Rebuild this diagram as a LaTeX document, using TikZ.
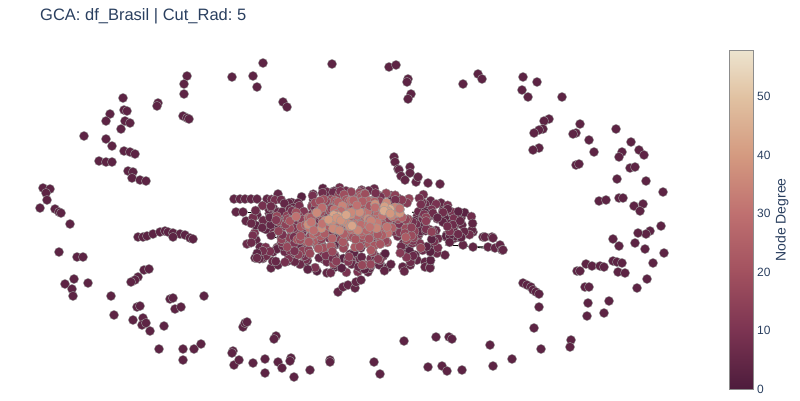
\documentclass[tikz,border=0pt]{standalone}
\usepackage{fontspec}
\setmainfont{Liberation Sans}
\usetikzlibrary{positioning}

\definecolor{degA}{HTML}{4D1C3C}
\definecolor{degB}{HTML}{7C3452}
\definecolor{degC}{HTML}{A2515F}
\definecolor{degD}{HTML}{BF7070}
\definecolor{degE}{HTML}{D49A80}
\definecolor{degF}{HTML}{E1C2A2}
\definecolor{degG}{HTML}{EDE4CF}
\definecolor{plotink}{HTML}{2A3F5F}
\colorlet{loner}{degB!35!degA}

% colour of a node from its degree
\newcommand\pickdeg[1]{%
  \pgfmathtruncatemacro\dseg{min(floor((#1)/10),4)}%
  \pgfmathtruncatemacro\dpc{min(100,max(0,((#1)-10*\dseg)*10))}%
  \ifcase\dseg\relax
    \colorlet{degc}{degB!\dpc!degA}%
  \or \colorlet{degc}{degC!\dpc!degB}%
  \or \colorlet{degc}{degD!\dpc!degC}%
  \or \colorlet{degc}{degE!\dpc!degD}%
  \or \colorlet{degc}{degF!\dpc!degE}%
  \fi}

\begin{document}
\frenchspacing
\begin{tikzpicture}[
  x=1pt, y=-1pt,
  nodedot/.style={draw=black!40, line width=0.4pt},
  edge/.style={draw=black, line width=0.8pt},
  tick/.style={anchor=west, font=\fontsize{12}{14}\selectfont, text=plotink, inner sep=0pt}
]
\useasboundingbox (0,0) rectangle (800,400);

% title
\node[anchor=base west, inner sep=0pt, text=plotink,
  font=\fontsize{16.5}{19}\selectfont] (title) at (40,20.5)
  {GCA: df\_Brasil | Cut\_Rad: 5};

% edges inside the big component
\draw[edge] (267,199) -- (278,199);
\draw[edge] (248,212) -- (256,212);
\draw[edge] (271,237) -- (283,238);
\draw[edge] (288,262) -- (303,263);
\draw[edge] (445,245) -- (485,247);
\draw[edge] (473,247) -- (503,250);
\draw[edge] (412,212) -- (418,215);

% small components around the ring
\foreach \x/\y in {263/63, 232/77, 253/76, 257/87, 187/76, 184/84, 184/94,
  123/98, 158/103, 157/106, 110/114, 124/110, 127/111, 106/121, 125/121,
  130/123, 121/129, 183/116, 187/118, 189/119, 84/136, 106/139, 112/146,
  124/151, 130/152, 135/154, 99/161, 106/162, 112/162, 128/171, 133/172,
  132/178, 140/180, 146/181, 43/188, 50/189, 46/193, 47/200, 40/208,
  55/209, 59/212, 61/213, 70/224,
  138/237, 143/237, 147/236, 153/234, 160/232, 165/231, 168/232, 173/233,
  180/234, 185/235, 190/238, 193/239, 173/237,
  59/252, 77/257, 83/257, 144/270, 149/269, 138/277, 135/280, 131/282,
  65/284, 74/279, 72/289, 73/296, 88/283, 111/296, 114/315, 170/299,
  173/298, 175/309, 181/307, 204/296, 137/307, 140/306, 133/320, 143/318,
  142/325, 146/323, 150/331, 164/326, 243/327, 245/323, 247/322, 159/349,
  183/349, 194/349, 201/344, 183/360, 233/351, 232/353, 234/365, 239/360,
  253/363, 265/359, 265/373,
  332/64, 283/102, 287/107, 389/67, 396/65, 408/79, 407/82, 411/94,
  408/99, 463/84, 478/74, 482/79,
  276/336, 274/339, 278/362, 282/368, 291/358, 290/361, 294/377, 310/370,
  330/360, 330/362, 374/362, 380/374, 404/341, 436/337, 449/337, 452/339,
  428/367, 442/366, 447/371, 462/370, 490/345, 493/366, 512/359,
  523/77, 537/82, 522/90, 528/97, 562/97, 549/119, 544/121, 543/129,
  539/130, 534/133, 580/124, 576/133, 573/134, 589/140, 594/152, 616/129,
  631/142, 622/152, 619/157, 639/150, 644/155, 539/148, 533/150, 576/165,
  579/164, 630/168, 635/167, 617/179, 646/181, 663/192, 599/201, 606/200,
  619/198, 623/198, 634/206, 643/204, 640/211, 661/226, 650/231, 646/234,
  638/233, 613/239, 619/246, 635/243, 645/249, 664/253, 653/263, 647/279,
  637/288, 577/271, 580/271, 586/264, 592/266, 600/266, 604/267, 613/261,
  617/262, 622/263, 618/272, 625/273, 585/287, 589/287, 588/303, 609/301,
  587/316, 604/313, 523/283, 527/285, 531/287, 533/290, 536/292, 539/294,
  539/307, 534/328, 541/349, 571/340, 570/347}
  \fill[nodedot, fill=loner] (\x,\y) circle (4.6pt);

% big component: spikes and streaks
\foreach \x/\y in {394/157, 395/162, 398/169, 399/170, 410/167, 410/173,
  401/176, 405/180, 416/182, 418/177, 428/183, 440/184,
  234/199, 240/199, 245/199, 251/199, 257/199, 267/199, 278/194,
  236/212, 243/212, 256/212, 257/215, 246/221, 253/218, 256/240, 260/247,
  255/258, 261/257, 268/253, 273/252, 278/247, 271/268, 278/265, 288/261,
  303/263, 338/292, 343/287, 348/285, 355/288, 356/282, 361/280, 368/272,
  415/255, 417/260, 425/262, 425/267, 430/267, 430/268, 446/237, 450/237,
  451/240, 455/238, 458/237, 463/245, 473/232, 472/230, 473/247, 462/225,
  458/218, 483/237, 485/237, 492/237, 493/238, 488/247, 495/248, 500/245,
  502/250, 503/250, 445/255, 408/248, 461/218, 441/203}
  \fill[nodedot, fill=degB!45!degA] (\x,\y) circle (4.6pt);

% big component: body, lighter towards the hubs
\pgfmathsetseed{2718}
\foreach \cx/\cy/\rx/\ry/\n/\dg/\sp in {
  360/230/102/46/230/6/4, 275/232/30/34/55/6/4, 445/224/30/20/40/6/4,
  355/228/86/38/170/12/5, 352/223/68/30/115/19/5, 350/220/55/22/70/26/5,
  343/220/40/16/40/33/5, 386/209/16/9/12/34/5,
  340/222/14/8/7/42/4, 386/210/9/5/5/43/4}{
  \foreach \i in {1,...,\n}{
    \pgfmathsetmacro\ang{360*rnd}
    \pgfmathsetmacro\rad{sqrt(rnd)}
    \pgfmathsetmacro\px{\cx+\rx*\rad*cos(\ang)}
    \pgfmathsetmacro\py{\cy+\ry*\rad*sin(\ang)}
    \pgfmathsetmacro\dd{max(0,\dg+\sp*(2*rnd-1))}
    \pickdeg{\dd}
    \fill[nodedot, fill=degc] (\px,\py) circle (4.6pt);
  }
}

% colour bar
\shade[bottom color=degA, top color=degB] (729,389) rectangle (753,330.3);
\shade[bottom color=degB, top color=degC] (729,330.6) rectangle (753,271.9);
\shade[bottom color=degC, top color=degD] (729,272.2) rectangle (753,213.5);
\shade[bottom color=degD, top color=degE] (729,213.8) rectangle (753,155.0);
\shade[bottom color=degE, top color=degF] (729,155.3) rectangle (753,96.6);
\shade[bottom color=degF, top color=degG] (729,96.9) rectangle (753,50);
\draw[black!45, line width=1pt] (729,50) rectangle (753,389);

\foreach \d in {0,10,...,50}
  \node[tick] (tick\d) at (757,{389-\d*5.845}) {\d};

\node[rotate=90, text=plotink, font=\fontsize{14}{16}\selectfont,
  inner sep=0pt] (cbtitle) at (782,220) {Node Degree};

\end{tikzpicture}
\end{document}
